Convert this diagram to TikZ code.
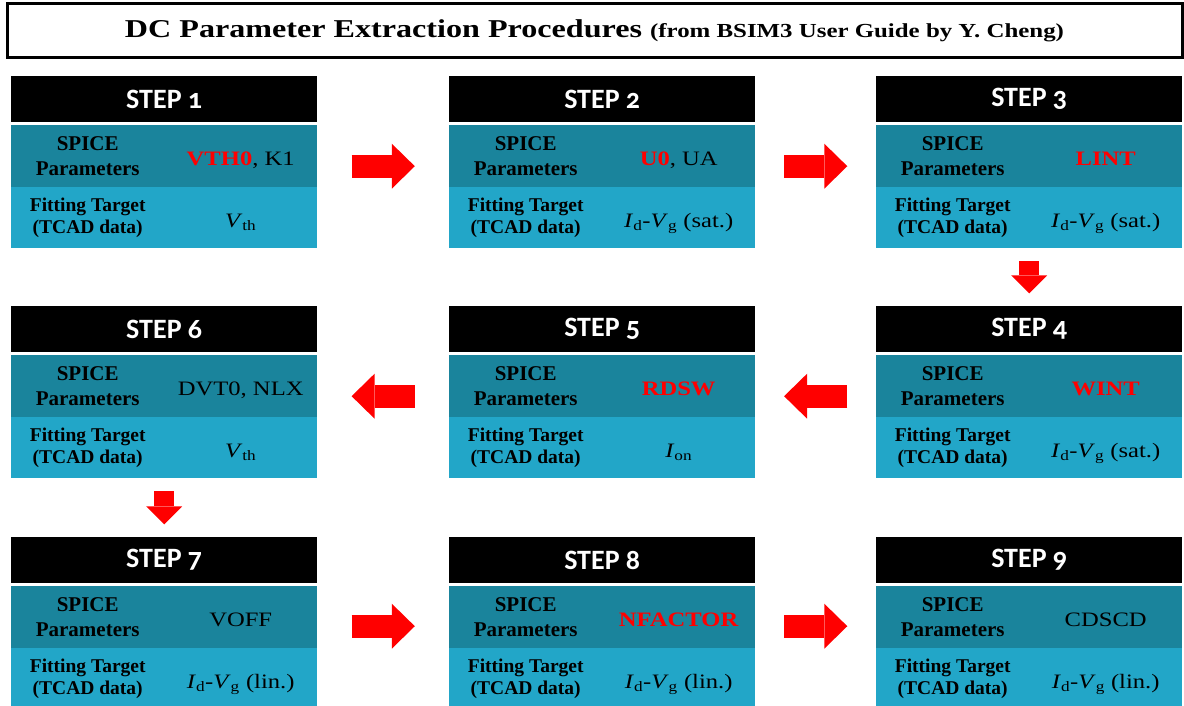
\documentclass[tikz,border=0pt]{standalone}
\usepackage{fontspec}
\setmainfont{Liberation Serif}
\newfontfamily\widefont{Liberation Serif}[FakeStretch=1.2]
\newfontfamily\titlefont{Liberation Serif}[FakeStretch=1.25]
\newfontfamily\headfont{Carlito}[Numbers=OldStyle]
\usepackage{xcolor}
\usetikzlibrary{arrows.meta, fit}

\definecolor{spicebg}{HTML}{1A849C}
\definecolor{fitbg}{HTML}{22A6C8}
\definecolor{flowred}{HTML}{FF0000}

\begin{document}
\begin{tikzpicture}[
    x=1pt, y=-1pt,
    stephead/.style={fill=black, text=white, font=\headfont\bfseries\fontsize{28}{28}\selectfont, minimum width=306pt, minimum height=46pt, inner sep=0pt, anchor=north west},
    parcell/.style={fill=spicebg, minimum width=153pt, minimum height=62pt, inner sep=0pt, align=center, anchor=north west},
    fitcell/.style={fill=fitbg, minimum width=153pt, minimum height=61pt, inner sep=0pt, align=center, anchor=north west},
    lbl/.style={font=\bfseries\fontsize{21}{24.5}\selectfont},
    flbl/.style={font=\bfseries\fontsize{19.5}{22.5}\selectfont},
    val/.style={font=\widefont\fontsize{20.5}{24}\selectfont, text height=19pt, text depth=0pt},
    stepgrp/.style={inner sep=0pt},
    flowarr/.style={draw=flowred, line width=23pt, -{Triangle[length=23pt, width=45pt, line width=0pt]}, shorten <=#1pt, shorten >=#1pt},
    downarr/.style={draw=flowred, line width=20pt, -{Triangle[length=18pt, width=36pt, line width=0pt]}, shorten <=12.5pt, shorten >=12.5pt},
]
\useasboundingbox (0,0) rectangle (1184,706);

% Title
\node[draw, line width=3pt, minimum width=1175pt, minimum height=54pt, inner sep=0pt] (title) at (594.5,31)
    {\titlefont\bfseries\fontsize{25.7}{28}\selectfont DC Parameter Extraction Procedures {\fontsize{19.9}{22}\selectfont (from BSIM3 User Guide by Y. Cheng)}};

% Row 1
\node[stephead] (h1) at (11,76) {STEP 1};
\node[parcell, lbl] (pl1) at (11,125) {SPICE\\Parameters};
\node[parcell, val] (pv1) at (164,125) {\textcolor{flowred}{\textbf{VTH0}}, K1};
\node[fitcell, flbl] (fl1) at (11,187) {Fitting Target\\(TCAD data)};
\node[fitcell, val] (fv1) at (164,187) {\textit{V}\textsubscript{th}};

\node[stephead] (h2) at (449,76) {STEP 2};
\node[parcell, lbl] (pl2) at (449,125) {SPICE\\Parameters};
\node[parcell, val] (pv2) at (602,125) {\textcolor{flowred}{\textbf{U0}}, UA};
\node[fitcell, flbl] (fl2) at (449,187) {Fitting Target\\(TCAD data)};
\node[fitcell, val] (fv2) at (602,187) {\textit{I}\textsubscript{d}-\textit{V}\textsubscript{g} (sat.)};

\node[stephead] (h3) at (876,76) {STEP 3};
\node[parcell, lbl] (pl3) at (876,125) {SPICE\\Parameters};
\node[parcell, val] (pv3) at (1029,125) {\textcolor{flowred}{\textbf{LINT}}};
\node[fitcell, flbl] (fl3) at (876,187) {Fitting Target\\(TCAD data)};
\node[fitcell, val] (fv3) at (1029,187) {\textit{I}\textsubscript{d}-\textit{V}\textsubscript{g} (sat.)};

% Row 2
\node[stephead] (h6) at (11,306) {STEP 6};
\node[parcell, lbl] (pl6) at (11,355) {SPICE\\Parameters};
\node[parcell, val] (pv6) at (164,355) {DVT0, NLX};
\node[fitcell, flbl] (fl6) at (11,417) {Fitting Target\\(TCAD data)};
\node[fitcell, val] (fv6) at (164,417) {\textit{V}\textsubscript{th}};

\node[stephead] (h5) at (449,306) {STEP 5};
\node[parcell, lbl] (pl5) at (449,355) {SPICE\\Parameters};
\node[parcell, val] (pv5) at (602,355) {\textcolor{flowred}{\textbf{RDSW}}};
\node[fitcell, flbl] (fl5) at (449,417) {Fitting Target\\(TCAD data)};
\node[fitcell, val] (fv5) at (602,417) {\textit{I}\textsubscript{on}};

\node[stephead] (h4) at (876,306) {STEP 4};
\node[parcell, lbl] (pl4) at (876,355) {SPICE\\Parameters};
\node[parcell, val] (pv4) at (1029,355) {\textcolor{flowred}{\textbf{WINT}}};
\node[fitcell, flbl] (fl4) at (876,417) {Fitting Target\\(TCAD data)};
\node[fitcell, val] (fv4) at (1029,417) {\textit{I}\textsubscript{d}-\textit{V}\textsubscript{g} (sat.)};

% Row 3
\node[stephead] (h7) at (11,537) {STEP 7};
\node[parcell, lbl] (pl7) at (11,586) {SPICE\\Parameters};
\node[parcell, val] (pv7) at (164,586) {VOFF};
\node[fitcell, flbl] (fl7) at (11,648) {Fitting Target\\(TCAD data)};
\node[fitcell, val] (fv7) at (164,648) {\textit{I}\textsubscript{d}-\textit{V}\textsubscript{g} (lin.)};

\node[stephead] (h8) at (449,537) {STEP 8};
\node[parcell, lbl] (pl8) at (449,586) {SPICE\\Parameters};
\node[parcell, val] (pv8) at (602,586) {\textcolor{flowred}{\textbf{NFACTOR}}};
\node[fitcell, flbl] (fl8) at (449,648) {Fitting Target\\(TCAD data)};
\node[fitcell, val] (fv8) at (602,648) {\textit{I}\textsubscript{d}-\textit{V}\textsubscript{g} (lin.)};

\node[stephead] (h9) at (876,537) {STEP 9};
\node[parcell, lbl] (pl9) at (876,586) {SPICE\\Parameters};
\node[parcell, val] (pv9) at (1029,586) {CDSCD};
\node[fitcell, flbl] (fl9) at (876,648) {Fitting Target\\(TCAD data)};
\node[fitcell, val] (fv9) at (1029,648) {\textit{I}\textsubscript{d}-\textit{V}\textsubscript{g} (lin.)};

% Step groups
\node[stepgrp, fit=(h1)(fv1)] (s1) {};
\node[stepgrp, fit=(h2)(fv2)] (s2) {};
\node[stepgrp, fit=(h3)(fv3)] (s3) {};
\node[stepgrp, fit=(h4)(fv4)] (s4) {};
\node[stepgrp, fit=(h5)(fv5)] (s5) {};
\node[stepgrp, fit=(h6)(fv6)] (s6) {};
\node[stepgrp, fit=(h7)(fv7)] (s7) {};
\node[stepgrp, fit=(h8)(fv8)] (s8) {};
\node[stepgrp, fit=(h9)(fv9)] (s9) {};

% Flow
\draw[flowarr=34] ([yshift=-4pt]s1.east) -- ([yshift=-4pt]s2.west);
\draw[flowarr=28.5] ([yshift=-4pt]s2.east) -- ([yshift=-4pt]s3.west);
\draw[downarr] (s3) -- (s4);
\draw[flowarr=28.5] ([yshift=-4pt]s4.west) -- ([yshift=-4pt]s5.east);
\draw[flowarr=34] ([yshift=-4pt]s5.west) -- ([yshift=-4pt]s6.east);
\draw[downarr] (s6) -- (s7);
\draw[flowarr=34] ([yshift=-3pt]s7.east) -- ([yshift=-3pt]s8.west);
\draw[flowarr=28.5] ([yshift=-3pt]s8.east) -- ([yshift=-3pt]s9.west);

\end{tikzpicture}
\end{document}
